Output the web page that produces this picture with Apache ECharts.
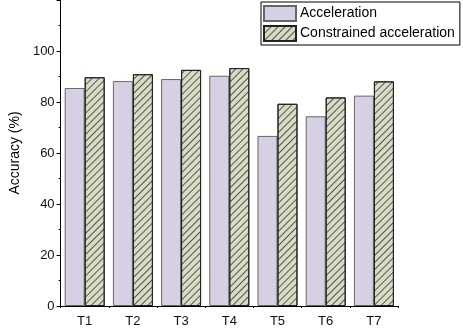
<!DOCTYPE html>
<html><head><meta charset="utf-8">
<script src="https://cdn.jsdelivr.net/npm/echarts@6/dist/echarts.min.js"></script>
<style>html,body{margin:0;padding:0;background:#fff}#c{width:463px;height:329px}</style>
</head><body><div id="c"></div>
<script>
const categories = ['T1','T2','T3','T4','T5','T6','T7'];
const acceleration = [85.5, 88.2, 89.0, 90.3, 66.7, 74.4, 82.5];
const constrained = [89.7, 90.9, 92.6, 93.3, 79.3, 81.8, 88.1];
const seriesNames = ['Acceleration', 'Constrained acceleration'];
const yTicks = [0, 20, 40, 60, 80, 100];

const font = 'Liberation Sans, Arial, sans-serif';
const chart = echarts.init(document.getElementById('c'), null, {renderer: 'canvas'});
chart.setOption({
  animation: false,
  backgroundColor: '#fff',
  grid: {left: 49, right: 65, top: 0, bottom: 23},
  legend: {
    orient: 'vertical', left: 261, top: 2,
    padding: [3, 5, 3, 2], itemGap: 3, itemWidth: 32, itemHeight: 15,
    icon: 'rect',
    borderColor: '#000', borderWidth: 1, backgroundColor: '#fff',
    textStyle: {fontFamily: font, fontSize: 14, color: '#000', padding: [0, 0, 0, -1]},
    data: seriesNames
  },
  xAxis: [{
    type: 'category', data: categories,
    axisLine: {lineStyle: {color: '#000', width: 1}},
    axisTick: {alignWithLabel: true, length: 4, lineStyle: {color: '#000'}},
    axisLabel: {fontFamily: font, fontSize: 13, color: '#111', margin: 9}
  }, {
    type: 'category', data: categories, position: 'bottom',
    axisLine: {show: false},
    axisTick: {show: true, length: 2, lineStyle: {color: '#000'}},
    axisLabel: {show: false}
  }],
  yAxis: {
    type: 'value', min: 0, max: 120, interval: 20,
    name: 'Accuracy (%)', nameLocation: 'middle', nameGap: 32,
    nameTextStyle: {fontFamily: font, fontSize: 14, color: '#000'},
    axisLine: {show: true, lineStyle: {color: '#000', width: 1}},
    axisTick: {show: true, length: 4, lineStyle: {color: '#000'}},
    minorTick: {show: true, splitNumber: 2, length: 2, lineStyle: {color: '#000'}},
    splitLine: {show: false},
    axisLabel: {fontFamily: font, fontSize: 13, color: '#111', margin: 6,
      formatter: v => yTicks.indexOf(v) >= 0 ? String(v) : ''}
  },
  series: [{
    name: seriesNames[0], type: 'bar', data: acceleration,
    barWidth: 20, barGap: '0%',
    itemStyle: {color: '#d7cfe4', borderColor: '#666', borderWidth: 1}
  }, {
    name: seriesNames[1], type: 'bar', data: constrained,
    barWidth: 20, barGap: '0%',
    itemStyle: {color: '#d9dcc5', borderColor: '#222', borderWidth: 1,
      decal: {symbol: 'rect', color: 'rgba(40,40,40,0.75)', dashArrayX: [1, 0], dashArrayY: [1, 4], rotation: -Math.PI / 4}}
  }]
});
</script></body></html>
